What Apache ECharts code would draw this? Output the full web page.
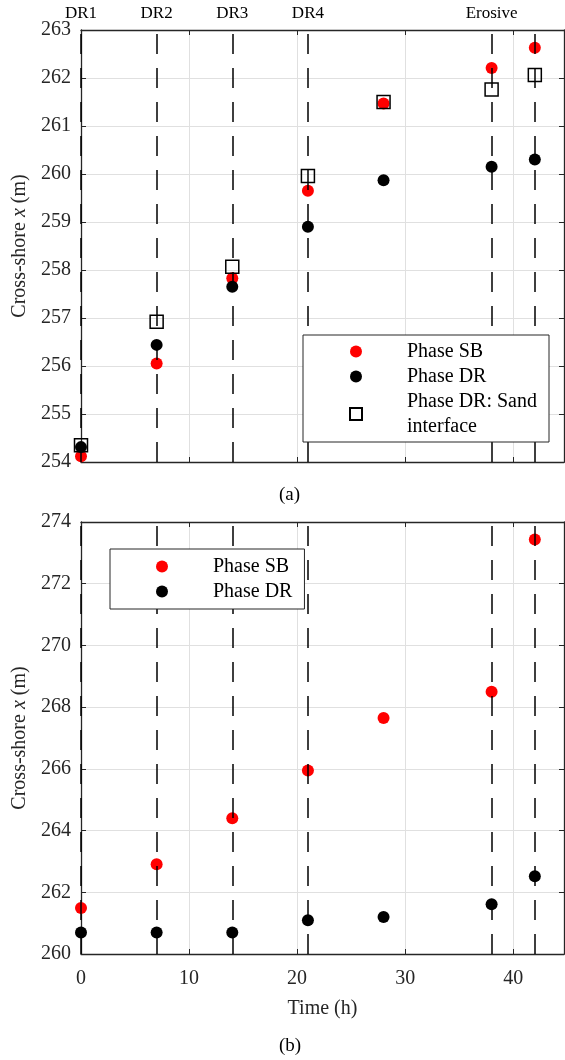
<!DOCTYPE html>
<html>
<head>
<meta charset="utf-8">
<script src="https://cdn.jsdelivr.net/npm/echarts@6/dist/echarts.min.js"></script>
<style>
  html, body { margin: 0; padding: 0; background: #fff; }
  #chart { width: 565px; height: 1060px; }
</style>
</head>
<body>
<div id="chart"></div>
<script>
// sampling times (h)
const times = [0, 7, 14, 21, 28, 38, 42];

// (a) cross-shore positions
const sbTop = [254.12, 256.05, 257.83, 259.65, 261.47, 262.21, 262.63];
const drTop = [254.31, 256.44, 257.65, 258.90, 259.87, 260.15, 260.30];
const sandTop = [254.35, 256.92, 258.07, 259.96, 261.50, 261.76, 262.06];

// (b) cross-shore positions
const sbBottom = [261.49, 262.91, 264.40, 265.95, 267.65, 268.50, 273.43];
const drBottom = [260.70, 260.70, 260.70, 261.09, 261.20, 261.61, 262.52];

// event markers (dashed lines)
const eventTimes = [0, 7, 14, 21, 38, 42];
const eventLabels = ['DR1', 'DR2', 'DR3', 'DR4', 'Erosive', ''];

const FONT = 'Liberation Serif';
const INK = '#262626';

const pairs = (ys) => times.map((t, i) => [t, ys[i]]);

function xAxisFor(grid, pos, labels) {
  return {
    type: 'value', gridIndex: grid, position: pos,
    min: 0, max: 44.7, interval: 10,
    axisLine: { show: true, onZero: false, lineStyle: { color: INK, width: 1.3 } },
    axisTick: { show: true, inside: true, length: 5, lineStyle: { color: INK } },
    axisLabel: { show: labels, showMaxLabel: false, color: INK, fontFamily: FONT, fontSize: 20, margin: 15 },
    splitLine: { show: pos === 'bottom', lineStyle: { color: '#e0e0e0', width: 1 } }
  };
}

function yAxisFor(grid, pos, min, max, step, labels) {
  return {
    type: 'value', gridIndex: grid, position: pos,
    min: min, max: max, interval: step,
    name: labels ? '{n|Cross-shore }{i|x}{n| (m)}' : '',
    nameLocation: 'middle', nameGap: 43,
    nameTextStyle: {
      rich: {
        n: { fontFamily: FONT, fontSize: 20, color: INK },
        i: { fontFamily: FONT, fontSize: 20, color: INK, fontStyle: 'italic' }
      }
    },
    axisLine: { show: true, onZero: false, lineStyle: { color: INK, width: 1.3 } },
    axisTick: { show: true, inside: true, length: 5, lineStyle: { color: INK } },
    axisLabel: { show: labels, color: INK, fontFamily: FONT, fontSize: 20, margin: 10 },
    splitLine: { show: pos === 'left', lineStyle: { color: '#e0e0e0', width: 1 } }
  };
}

function eventLines(xi, yi, withLabels) {
  return {
    type: 'line', xAxisIndex: xi, yAxisIndex: yi, data: [], silent: true, z: 1,
    markLine: {
      symbol: ['none', 'none'], silent: true, animation: false,
      lineStyle: { color: '#000', width: 1.5, type: [20, 14] },
      label: {
        show: withLabels, position: 'end', formatter: '{b}', distance: 8,
        color: '#000', fontFamily: FONT, fontSize: 17
      },
      data: eventTimes.map((t, i) => ({ xAxis: t, name: eventLabels[i] }))
    }
  };
}

const dot = (name, xi, yi, ys, color) => ({
  name: name, type: 'scatter', xAxisIndex: xi, yAxisIndex: yi,
  symbol: 'circle', symbolSize: 12, z: 3,
  itemStyle: { color: color, opacity: 1 },
  data: pairs(ys)
});

const legendText = {
  fontFamily: FONT, fontSize: 20, color: '#000', lineHeight: 25,
  padding: [0, 0, 0, 40]
};

const option = {
  animation: false,
  backgroundColor: '#fff',
  grid: [
    { left: 81, top: 30, width: 483, height: 432 },
    { left: 81, top: 522, width: 483, height: 432 }
  ],
  xAxis: [
    xAxisFor(0, 'bottom', false),
    xAxisFor(0, 'top', false),
    Object.assign(xAxisFor(1, 'bottom', true), {
      name: 'Time (h)', nameLocation: 'middle', nameGap: 45,
      nameTextStyle: { fontFamily: FONT, fontSize: 20, color: INK }
    }),
    xAxisFor(1, 'top', false)
  ],
  yAxis: [
    yAxisFor(0, 'left', 254, 263, 1, true),
    yAxisFor(0, 'right', 254, 263, 1, false),
    yAxisFor(1, 'left', 260, 274, 2, true),
    yAxisFor(1, 'right', 260, 274, 2, false)
  ],
  legend: [
    {
      left: 303, top: 335, orient: 'vertical', selectedMode: false, z: 20,
      backgroundColor: '#fff', borderColor: INK, borderWidth: 1,
      padding: [4, 12, 3, 46], itemGap: 0, itemWidth: 12, itemHeight: 12,
      textStyle: legendText,
      formatter: (n) => n.replace('Sand interface', 'Sand\ninterface'),
      data: ['Phase SB', 'Phase DR', 'Phase DR: Sand interface']
    },
    {
      left: 110, top: 549, orient: 'vertical', selectedMode: false, z: 20,
      backgroundColor: '#fff', borderColor: INK, borderWidth: 1,
      padding: [5, 12, 5, 46], itemGap: 0, itemWidth: 12, itemHeight: 12,
      textStyle: legendText,
      data: ['Phase SB', 'Phase DR']
    }
  ],
  graphic: [
    { type: 'text', left: 279, top: 486, style: { text: '(a)', fontFamily: FONT, fontSize: 19, fill: '#000' } },
    { type: 'text', left: 279, top: 1037, style: { text: '(b)', fontFamily: FONT, fontSize: 19, fill: '#000' } }
  ],
  series: [
    eventLines(0, 0, true),
    eventLines(2, 2, false),
    dot('Phase SB', 0, 0, sbTop, '#ff0000'),
    dot('Phase DR', 0, 0, drTop, '#000000'),
    {
      name: 'Phase DR: Sand interface', type: 'scatter', xAxisIndex: 0, yAxisIndex: 0,
      symbol: 'rect', symbolSize: 13, z: 4,
      itemStyle: { color: 'rgba(255,255,255,0)', borderColor: '#000', borderWidth: 1.5, opacity: 1 },
      data: pairs(sandTop)
    },
    dot('Phase SB', 2, 2, sbBottom, '#ff0000'),
    dot('Phase DR', 2, 2, drBottom, '#000000')
  ]
};

const chart = echarts.init(document.getElementById('chart'), null, { renderer: 'canvas' });
chart.setOption(option);
</script>
</body>
</html>
